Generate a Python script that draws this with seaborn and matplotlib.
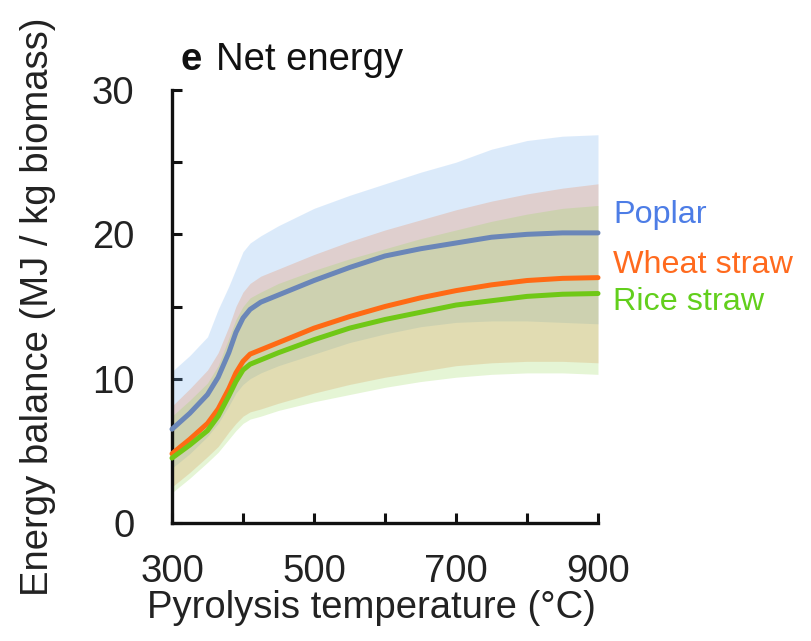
import numpy as np
import pandas as pd
import matplotlib
matplotlib.use("Agg")
import matplotlib.pyplot as plt
import seaborn as sns

# ---------------- data ----------------
temperature = [300, 325, 350, 365, 380, 390, 400, 410, 425, 450, 475, 500, 550, 600, 650, 700, 750, 800, 850, 900]

poplar_mean = [6.5, 7.6, 8.9, 10.1, 11.8, 13.2, 14.2, 14.8, 15.3, 15.8, 16.3, 16.8, 17.7, 18.5, 19.0, 19.4, 19.8, 20.0, 20.1, 20.1]
poplar_upper = [10.5, 11.6, 12.9, 14.8, 16.4, 17.6, 18.8, 19.4, 19.9, 20.6, 21.2, 21.8, 22.7, 23.5, 24.3, 25.0, 25.9, 26.5, 26.8, 26.9]
poplar_lower = [3.8, 4.8, 6.0, 6.9, 8.1, 9.0, 9.6, 10.0, 10.4, 10.9, 11.3, 11.7, 12.5, 13.1, 13.6, 13.9, 14.0, 14.0, 13.9, 13.8]

wheat_mean = [4.8, 5.8, 6.9, 7.9, 9.3, 10.4, 11.2, 11.7, 12.0, 12.5, 13.0, 13.5, 14.3, 15.0, 15.6, 16.1, 16.5, 16.8, 16.95, 17.0]
wheat_upper = [8.1, 9.3, 10.6, 11.8, 13.6, 15.0, 16.0, 16.6, 17.1, 17.6, 18.1, 18.6, 19.5, 20.3, 21.0, 21.7, 22.3, 22.8, 23.2, 23.5]
wheat_lower = [2.5, 3.5, 4.6, 5.3, 6.3, 6.9, 7.4, 7.7, 7.9, 8.3, 8.65, 9.0, 9.6, 10.1, 10.5, 10.9, 11.1, 11.2, 11.2, 11.1]

rice_mean = [4.5, 5.4, 6.4, 7.4, 8.8, 9.8, 10.6, 11.0, 11.3, 11.8, 12.25, 12.7, 13.5, 14.1, 14.6, 15.1, 15.4, 15.7, 15.85, 15.9]
rice_upper = [7.4, 8.5, 9.7, 10.9, 12.8, 14.1, 15.0, 15.6, 16.0, 16.6, 17.05, 17.5, 18.3, 19.0, 19.7, 20.3, 20.9, 21.4, 21.8, 22.0]
rice_lower = [2.1, 3.1, 4.2, 4.9, 5.8, 6.4, 6.9, 7.2, 7.4, 7.8, 8.1, 8.4, 8.9, 9.4, 9.8, 10.1, 10.3, 10.4, 10.4, 10.3]

species = ["Poplar", "Wheat straw", "Rice straw"]
x_ticks = [300, 400, 500, 600, 700, 800, 900]
x_labels = ["300", "", "500", "", "700", "", "900"]
y_ticks = [0, 5, 10, 15, 20, 25, 30]
y_labels = ["0", "", "10", "", "20", "", "30"]

# ---------------- styling ----------------
line_colors = {"Poplar": "#6a86b8", "Wheat straw": "#ff6a14", "Rice straw": "#70c816"}
fill_colors = {"Poplar": "#73afef", "Wheat straw": "#ec7f4b", "Rice straw": "#98d858"}
text_colors = {"Poplar": "#4d7de6", "Wheat straw": "#ff6a1e", "Rice straw": "#62cf1c"}

sns.set_style("white")
plt.rcParams["font.family"] = ["Liberation Sans", "DejaVu Sans"]

df = pd.DataFrame({
    "Temperature": temperature * 3,
    "Energy": poplar_mean + wheat_mean + rice_mean,
    "Species": [species[0]] * len(temperature) + [species[1]] * len(temperature) + [species[2]] * len(temperature),
})

fig = plt.figure(figsize=(8.11, 6.41), dpi=100)
ax = fig.add_axes([172 / 811, 1 - 523 / 641, (598 - 172) / 811, (523 - 90) / 641])

bands = {
    "Poplar": (poplar_lower, poplar_upper),
    "Wheat straw": (wheat_lower, wheat_upper),
    "Rice straw": (rice_lower, rice_upper),
}
for sp in species:
    lo, hi = bands[sp]
    ax.fill_between(temperature, lo, hi, color=fill_colors[sp], alpha=0.25, linewidth=0, zorder=1)

sns.lineplot(data=df, x="Temperature", y="Energy", hue="Species", palette=line_colors,
             hue_order=species, linewidth=3.6, legend=False, ax=ax, zorder=3)
for ln in ax.get_lines():
    ln.set_solid_joinstyle("round")
    ln.set_solid_capstyle("round")
    ln.set_clip_on(False)

ax.set_xlim(300, 900)
ax.set_ylim(0, 30)
ax.set_xticks(x_ticks)
ax.set_xticklabels(x_labels)
ax.set_yticks(y_ticks)
ax.set_yticklabels(y_labels)
ax.tick_params(axis="both", direction="in", length=7.5, width=2.2, color="#111111",
               labelsize=27.5, labelcolor="#222222", bottom=True, left=True)
ax.tick_params(axis="x", pad=22)
ax.tick_params(axis="y", pad=27)
for s in ["top", "right"]:
    ax.spines[s].set_visible(False)
for s in ["left", "bottom"]:
    ax.spines[s].set_linewidth(2.4)
    ax.spines[s].set_color("#111111")
    ax.spines[s].set_capstyle("projecting")

ax.set_xlabel("Pyrolysis temperature (°C)", fontsize=27.5, color="#222222", labelpad=0)
ax.xaxis.label.set_x(0.468)
ax.set_ylabel("Energy balance (MJ / kg biomass)", fontsize=27.5, color="#222222", labelpad=26)

# title
fig.text(180 / 811, 1 - 70 / 641, "e", fontsize=27.5, fontweight="bold", color="#111111", va="baseline")
fig.text(216 / 811, 1 - 70 / 641, "Net energy", fontsize=27.5, color="#111111", va="baseline")

# labels at right
label_y = {"Poplar": 223, "Wheat straw": 273, "Rice straw": 310}
for sp in species:
    fig.text(613 / 811, 1 - label_y[sp] / 641, sp, fontsize=23.3, color=text_colors[sp], va="baseline")

fig.savefig("out.png", dpi=100)
